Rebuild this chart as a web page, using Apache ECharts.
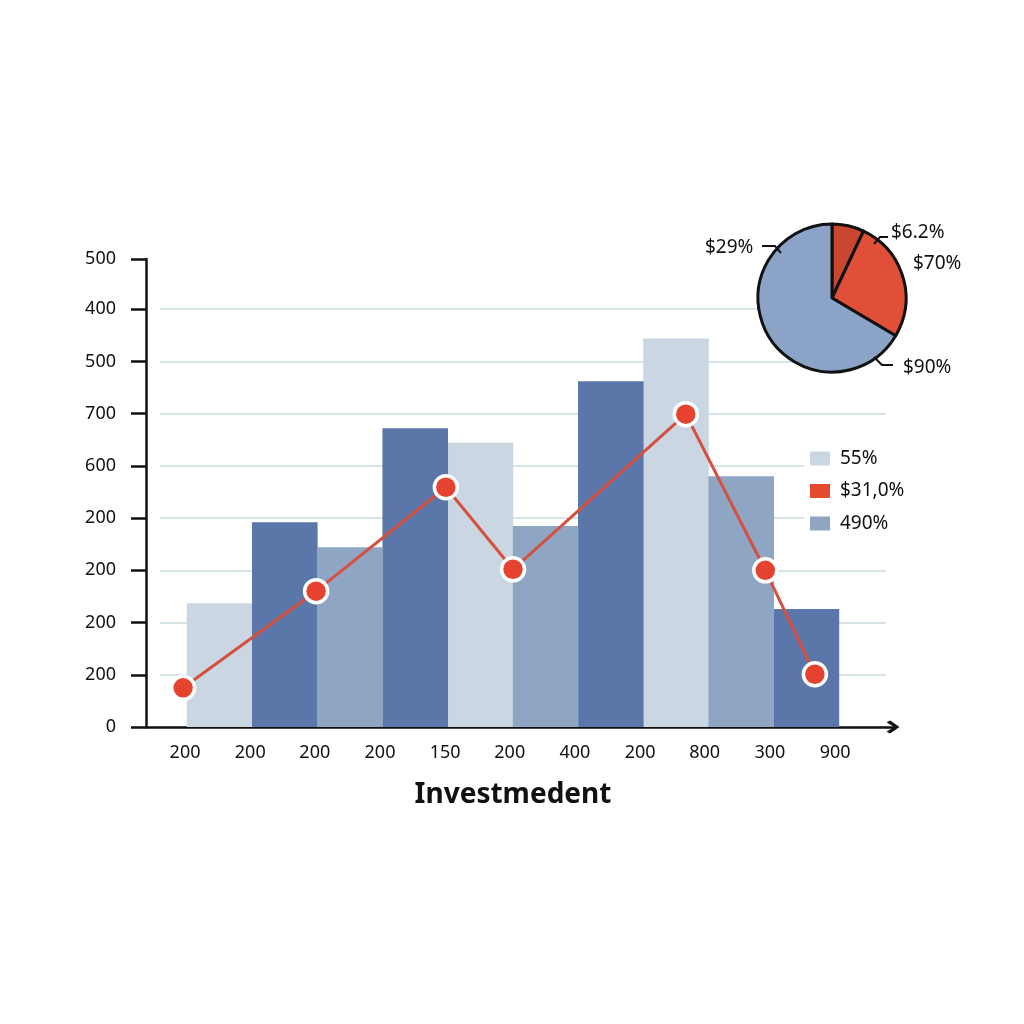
<!DOCTYPE html>
<html>
<head>
<meta charset="utf-8">
<style>html,body{margin:0;background:#fff}#main{width:1024px;height:1024px}</style>
<script src="https://cdn.jsdelivr.net/npm/echarts@6/dist/echarts.min.js"></script>
</head>
<body>
<div id="main"></div>
<script>
// tick labels as they read on the picture, bottom to top
var yTickValues = [0, 100, 200, 300, 400, 500, 600, 700, 800, 896];
var yTickLabels = ['0', '200', '200', '200', '200', '600', '700', '500', '400', '500'];
var xTickLabels = ['200', '200', '200', '200', '150', '200', '400', '200', '800', '300', '900'];
var xTickValues = [-0.03, 0.97, 1.96, 2.96, 3.96, 4.95, 5.95, 6.95, 7.94, 8.94, 9.94];

// bars: [slot centre, height]
var lightBars = [[0.5, 237], [4.5, 544], [7.5, 744]];
var darkBars = [[1.5, 392], [3.5, 572], [6.5, 662], [9.5, 226]];
var midBars = [[2.5, 344], [5.5, 385], [8.5, 480]];
var linePoints = [[-0.06, 75], [1.98, 260], [3.97, 459], [5.0, 302], [7.65, 599], [8.87, 300], [9.63, 101]];

var pieValues = [7, 26.5, 66.5];
var pieColors = ['#c9472f', '#e14f39', '#8ba3c6'];
var legendNames = ['55%', '$31,0%', '490%'];

var font = '"Noto Sans", "Open Sans", sans-serif';
var textColor = '#111';

function pieLabel(x, y, text) {
    return {
        type: 'text', x: x, y: y, z: 5,
        style: { text: text, font: '19px ' + font, fill: textColor, verticalAlign: 'middle' }
    };
}
function leader(points) {
    return {
        type: 'polyline', z: 5,
        shape: { points: points },
        style: { stroke: '#111', lineWidth: 2, fill: null }
    };
}
function mask(x, y, w, h) {
    return { type: 'rect', z: 1, shape: { x: x, y: y, width: w, height: h }, style: { fill: '#fff' } };
}

var myChart = echarts.init(document.getElementById('main'));
var option = {
    backgroundColor: '#fff',
    animation: false,
    title: {
        text: 'Investmedent',
        left: 508, top: 771, textAlign: 'center',
        textStyle: { fontFamily: font, fontSize: 28, fontWeight: 'bold', color: '#111', lineHeight: 38 }
    },
    grid: [
        { left: 146, top: 259, width: 747, height: 468 },
        { left: 160, top: 309, width: 726, height: 418 } // only the pale lines
    ],
    xAxis: [
        {
            type: 'value', gridIndex: 0, min: -0.629, max: 10.828,
            splitLine: { show: false },
            axisLine: {
                lineStyle: { color: '#111', width: 2.5 },
                symbol: ['none', 'path://M50 0 L100 72 L86 100 L50 42 L14 100 L0 72 Z'],
                symbolSize: [20, 13]
            },
            axisTick: { show: false },
            axisLabel: {
                customValues: xTickValues, margin: 17, fontSize: 18, fontFamily: font, color: textColor,
                formatter: function (v) { return xTickLabels[xTickValues.indexOf(v)]; }
            }
        },
        { type: 'value', gridIndex: 1, min: 0, max: 1, show: false }
    ],
    yAxis: [
        {
            type: 'value', gridIndex: 0, min: 0, max: 896,
            splitLine: { show: false },
            axisLine: { onZero: false, lineStyle: { color: '#111', width: 2.5 } },
            axisTick: { customValues: yTickValues, length: 15, lineStyle: { color: '#111', width: 2.5 } },
            axisLabel: {
                customValues: yTickValues, margin: 30, fontSize: 18, fontFamily: font, color: textColor,
                padding: [7, 0, 0, 0],
                formatter: function (v) { return yTickLabels[yTickValues.indexOf(v)]; }
            }
        },
        {
            type: 'value', gridIndex: 1, min: 0, max: 800, interval: 100,
            axisLine: { show: false }, axisTick: { show: false }, axisLabel: { show: false },
            splitLine: { lineStyle: { color: '#c9dbe0', width: 1.5 } }
        }
    ],
    legend: {
        orient: 'vertical', left: 805, top: 444, itemWidth: 20, itemHeight: 14, itemGap: 13.5,
        textStyle: { fontFamily: font, fontSize: 19, color: textColor, padding: [0, 0, 0, 5] },
        data: [
            { name: legendNames[0], icon: 'rect' },
            { name: legendNames[1], icon: 'rect', itemStyle: { color: '#e5492f', borderWidth: 0 } },
            { name: legendNames[2], icon: 'rect' }
        ]
    },
    series: [
        { type: 'bar', name: legendNames[0], data: lightBars, barWidth: 65.6, barGap: '-100%', itemStyle: { color: '#cbd6e3' } },
        { type: 'bar', name: 'dark', data: darkBars, barWidth: 65.6, barGap: '-100%', itemStyle: { color: '#5b76a9' } },
        { type: 'bar', name: legendNames[2], data: midBars, barWidth: 65.6, barGap: '-100%', itemStyle: { color: '#8fa5c4' } },
        {
            type: 'line', name: legendNames[1], data: linePoints, z: 4,
            symbol: 'circle', symbolSize: 23,
            lineStyle: { color: '#d5503f', width: 3 },
            itemStyle: { color: '#e5432f', borderColor: '#fff', borderWidth: 3.5, opacity: 1 }
        },
        {
            type: 'pie', center: [832, 298], radius: 74, startAngle: 90, clockwise: true, z: 3,
            label: { show: false }, labelLine: { show: false }, silent: true,
            itemStyle: { borderColor: '#111', borderWidth: 3 },
            data: pieValues.map(function (v, i) {
                return { value: v, name: 'slice' + i, itemStyle: { color: pieColors[i] } };
            })
        }
    ],
    graphic: [
        mask(804, 440, 96, 90),
        mask(866, 354, 30, 14),
        pieLabel(705, 248, '$29%'),
        pieLabel(891, 233, '$6.2%'),
        pieLabel(913, 264, '$70%'),
        pieLabel(903, 368, '$90%'),
        leader([[762, 246], [775, 246], [781, 253]]),
        leader([[888, 237], [880, 237], [874, 244]]),
        leader([[874, 357], [882, 365], [893, 365]])
    ]
};
myChart.setOption(option);
</script>
</body>
</html>
